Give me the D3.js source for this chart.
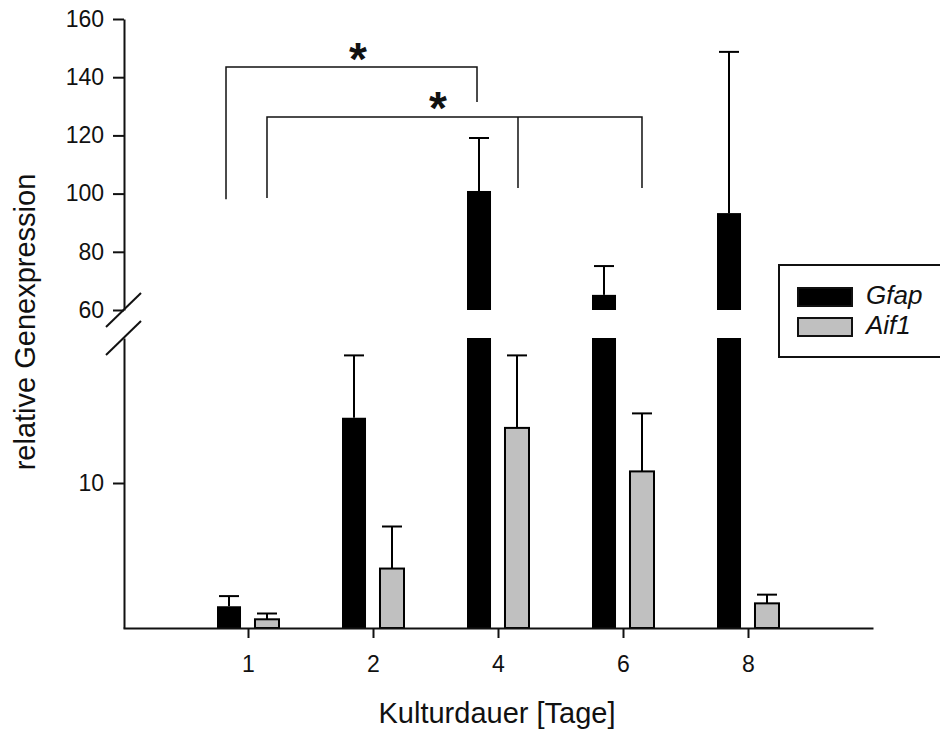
<!DOCTYPE html>
<html>
<head>
<meta charset="utf-8">
<script src="https://cdn.jsdelivr.net/npm/d3@7"></script>
<style>
  body { margin: 0; background: #fff; }
  text { font-family: "Liberation Sans", Arial, sans-serif; fill: #111; }
</style>
</head>
<body>
<script>
// data
var days = ['1', '2', '4', '6', '8'];
var genes = ['Gfap', 'Aif1'];
var gfapMean = [1.5, 14.5, 100.9, 65.2, 93.3];
var gfapSD   = [0.7, 4.3, 18.2, 9.9, 55.4];
var aif1Mean = [0.6, 4.1, 13.8, 10.8, 1.7];
var aif1SD   = [0.4, 2.9, 5.0, 4.0, 0.6];
var upperTicks = [60, 80, 100, 120, 140, 160];
var lowerTicks = [10];

var w = 940, h = 733;

var svg = d3.select('body')
  .append('svg')
  .attr('width', w)
  .attr('height', h);

// broken y axis: two linear pieces
var yLow = d3.scaleLinear().domain([0, 20]).range([628, 338]);
var yUp = d3.scaleLinear().domain([60, 160]).range([310, 19]);

var x = d3.scalePoint().domain(days).range([123, 873]).padding(1);
var xSub = d3.scaleBand().domain(genes).range([-31, 31]).paddingInner(0.368);
var colors = { Gfap: '#000', Aif1: '#c0c0c0' };

var rows = [];
days.forEach(function (d, i) {
  rows.push({ day: d, gene: 'Gfap', mean: gfapMean[i], sd: gfapSD[i] });
  rows.push({ day: d, gene: 'Aif1', mean: aif1Mean[i], sd: aif1SD[i] });
});

function cx(d) { return x(d.day) + xSub(d.gene) + xSub.bandwidth() / 2; }
function yOf(v) { return v > 20 ? yUp(Math.max(v, 60)) : yLow(v); }

// bars, lower piece
svg.selectAll('rect.low').data(rows)
  .enter()
  .append('rect')
  .attr('class', 'low')
  .attr('x', function (d) { return x(d.day) + xSub(d.gene); })
  .attr('y', function (d) { return yLow(Math.min(d.mean, 20)); })
  .attr('width', xSub.bandwidth())
  .attr('height', function (d) { return yLow(0) - yLow(Math.min(d.mean, 20)); })
  .attr('fill', function (d) { return colors[d.gene]; })
  .attr('stroke', '#000')
  .attr('stroke-width', function (d) { return d.gene === 'Aif1' ? 2 : 0; });

// bars, upper piece
svg.selectAll('rect.up').data(rows.filter(function (d) { return d.mean > 60; }))
  .enter()
  .append('rect')
  .attr('class', 'up')
  .attr('x', function (d) { return x(d.day) + xSub(d.gene); })
  .attr('y', function (d) { return yUp(d.mean); })
  .attr('width', xSub.bandwidth())
  .attr('height', function (d) { return yUp(60) - yUp(d.mean); })
  .attr('fill', function (d) { return colors[d.gene]; });

// error bars (upper side only)
var err = svg.append('g').attr('stroke', '#000').attr('stroke-width', 2);
err.selectAll('line.v').data(rows)
  .enter()
  .append('line')
  .attr('x1', cx).attr('x2', cx)
  .attr('y1', function (d) { return yOf(d.mean); })
  .attr('y2', function (d) { return yOf(d.mean + d.sd); });
err.selectAll('line.cap').data(rows)
  .enter()
  .append('line')
  .attr('x1', function (d) { return cx(d) - 10; })
  .attr('x2', function (d) { return cx(d) + 10; })
  .attr('y1', function (d) { return yOf(d.mean + d.sd); })
  .attr('y2', function (d) { return yOf(d.mean + d.sd); });

// axes
var axUp = svg.append('g')
  .attr('transform', 'translate(124,0)')
  .call(d3.axisLeft(yUp).tickValues(upperTicks).tickSizeInner(11).tickSizeOuter(0).tickPadding(9));
var axLow = svg.append('g')
  .attr('transform', 'translate(124,0)')
  .call(d3.axisLeft(yLow).tickValues(lowerTicks).tickSizeInner(11).tickSizeOuter(0).tickPadding(9));
var axX = svg.append('g')
  .attr('transform', 'translate(0,628)')
  .call(d3.axisBottom(x).tickSizeInner(10).tickSizeOuter(0).tickPadding(18));

[axUp, axLow, axX].forEach(function (g) {
  g.attr('font-size', null).attr('font-family', null);
  g.selectAll('path, line').attr('stroke', '#111').attr('stroke-width', 2);
  g.selectAll('text')
    .style('font-size', '23px')
    .style('fill', '#111')
    .style('font-family', '"Liberation Sans", Arial, sans-serif');
});

// break marks
[310, 338].forEach(function (yy) {
  svg.append('line')
    .attr('x1', 106).attr('y1', yy + 17)
    .attr('x2', 141).attr('y2', yy - 17)
    .attr('stroke', '#111').attr('stroke-width', 2);
});

// axis titles
svg.append('text')
  .attr('x', 497).attr('y', 723)
  .attr('text-anchor', 'middle')
  .style('font-size', '29px')
  .text('Kulturdauer [Tage]');
svg.append('text')
  .attr('transform', 'translate(35,322) rotate(-90)')
  .attr('text-anchor', 'middle')
  .style('font-size', '29px')
  .text('relative Genexpression');

// significance brackets
function gx(day, gene) { return x(day) + xSub(gene) + xSub.bandwidth() / 2; }
var br = svg.append('g').attr('fill', 'none').attr('stroke', '#111').attr('stroke-width', 1.5);
br.append('path').attr('d', d3.line()([
  [gx('1', 'Gfap') - 3, yUp(98.1)], [gx('1', 'Gfap') - 3, yUp(143.5)],
  [gx('4', 'Gfap') - 2, yUp(143.5)], [gx('4', 'Gfap') - 2, yUp(131.5)]
]));
br.append('path').attr('d', d3.line()([
  [gx('1', 'Aif1'), yUp(98.5)], [gx('1', 'Aif1'), yUp(126.3)],
  [gx('6', 'Aif1'), yUp(126.3)], [gx('6', 'Aif1'), yUp(101.9)]
]));
br.append('line')
  .attr('x1', gx('4', 'Aif1') + 1).attr('x2', gx('4', 'Aif1') + 1)
  .attr('y1', yUp(126.3)).attr('y2', yUp(101.9));

svg.append('text').attr('x', 358).attr('y', 75)
  .attr('text-anchor', 'middle').style('font-size', '46px').style('font-weight', 'bold')
  .text('*');
svg.append('text').attr('x', 438).attr('y', 124)
  .attr('text-anchor', 'middle').style('font-size', '46px').style('font-weight', 'bold')
  .text('*');

// legend
var lg = svg.append('g');
lg.append('rect')
  .attr('x', 779).attr('y', 265).attr('width', 170).attr('height', 92)
  .attr('fill', '#fff').attr('stroke', '#111').attr('stroke-width', 2);
genes.forEach(function (g, i) {
  lg.append('rect')
    .attr('x', 798).attr('y', 288 + i * 30).attr('width', 54).attr('height', 18)
    .attr('fill', colors[g]).attr('stroke', '#111').attr('stroke-width', 2);
  lg.append('text')
    .attr('x', 866).attr('y', 304 + i * 30)
    .style('font-size', '26px').style('font-style', 'italic')
    .text(g);
});
</script>
</body>
</html>
